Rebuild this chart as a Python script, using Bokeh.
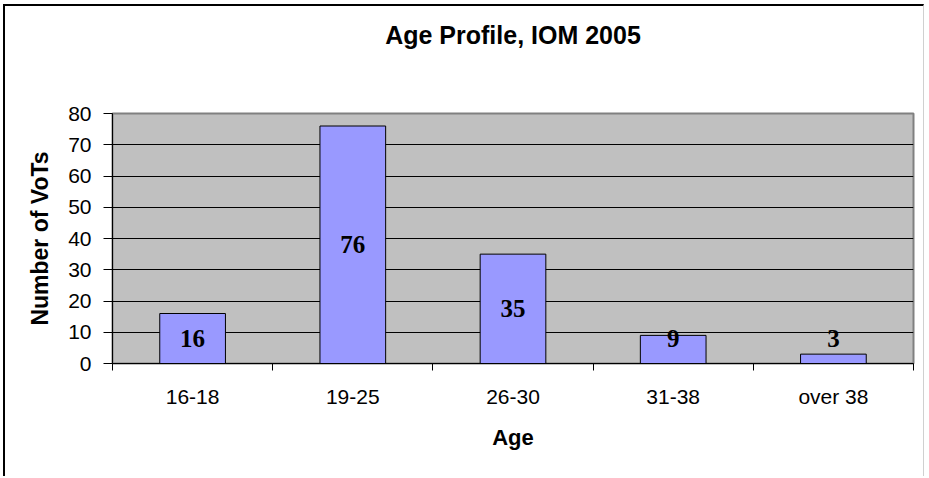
from bokeh.plotting import figure
from bokeh.models import Range1d, FixedTicker, Title, ColumnDataSource
from bokeh.core.properties import value
from bokeh.embed import file_html
from bokeh.resources import INLINE

categories = ["16-18", "19-25", "26-30", "31-38", "over 38"]
counts = [16, 76, 35, 9, 3]
y_ticks = [0, 10, 20, 30, 40, 50, 60, 70, 80]
title_text = "Age Profile, IOM 2005"
x_title = "Age"
y_title = "Number of VoTs"

xs = [i + 0.5 for i in range(len(categories))]
label_y = [max(v / 2, 8) for v in counts]
src = ColumnDataSource(dict(x=xs, top=counts, lab=[str(v) for v in counts], ly=label_y))

p = figure(width=921, height=472, output_backend="svg", toolbar_location=None,
           x_range=Range1d(0, len(categories)), y_range=Range1d(0, 80),
           min_border_left=107, min_border_right=13, min_border_top=107, min_border_bottom=115)
p.styles = {"margin-left": "3px", "margin-top": "4px",
            "border-left": "2px solid black", "border-top": "2px solid black",
            "border-right": "1px solid #d0d0d0"}
p.background_fill_color = "#C0C0C0"
p.border_fill_color = "white"
p.outline_line_color = "#808080"
p.outline_line_width = 2

p.vbar(x="x", top="top", bottom=0, width=0.41, source=src,
       fill_color="#9999FF", line_color="black", line_width=1)
p.text(x="x", y="ly", text="lab", source=src, text_align="center", text_baseline="middle",
       text_font=value("Liberation Serif"), text_font_style="bold", text_font_size="25px",
       text_color="black")

p.xgrid.visible = False
p.ygrid.ticker = FixedTicker(ticks=y_ticks)
p.ygrid.grid_line_color = "black"
p.ygrid.grid_line_width = 1

xa = p.xaxis[0]
xa.ticker = FixedTicker(ticks=xs, minor_ticks=list(range(len(categories) + 1)))
xa.major_label_overrides = {x: c for x, c in zip(xs, categories)}
xa.major_tick_line_color = None
xa.major_tick_out = 0
xa.major_tick_in = 0
xa.minor_tick_line_color = "black"
xa.minor_tick_out = 7
xa.minor_tick_in = 0
xa.axis_line_color = "black"
xa.major_label_standoff = 14
xa.major_label_text_font = "Liberation Sans"
xa.major_label_text_font_size = "21px"
xa.major_label_text_color = "black"
xa.axis_label = x_title
xa.axis_label_text_font = "Liberation Sans"
xa.axis_label_text_font_size = "22px"
xa.axis_label_text_font_style = "bold"
xa.axis_label_text_color = "black"
xa.axis_label_standoff = 14

ya = p.yaxis[0]
ya.ticker = FixedTicker(ticks=y_ticks, minor_ticks=[])
ya.major_tick_out = 9
ya.major_tick_in = 0
ya.major_tick_line_color = "black"
ya.minor_tick_line_color = None
ya.axis_line_color = "black"
ya.major_label_standoff = 12
ya.major_label_text_font = "Liberation Sans"
ya.major_label_text_font_size = "21px"
ya.major_label_text_color = "black"
ya.axis_label = y_title
ya.axis_label_text_font = "Liberation Sans"
ya.axis_label_text_font_size = "23px"
ya.axis_label_text_font_style = "bold"
ya.axis_label_text_color = "black"
ya.axis_label_standoff = 12

p.title.text = title_text
p.title.align = "center"
p.title.vertical_align = "bottom"
p.title.text_font = "Liberation Sans"
p.title.text_font_style = "bold"
p.title.text_font_size = "25px"
p.title.text_color = "black"
p.title.standoff = 0
spacer = Title(text=" ", text_font_size="1px", standoff=62)
p.add_layout(spacer, "above")

open("out.html", "w").write(file_html(p, INLINE))
